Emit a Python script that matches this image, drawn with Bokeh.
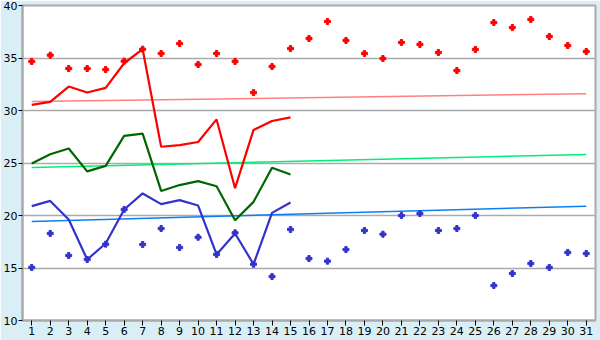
from bokeh.plotting import figure
from bokeh.embed import file_html
from bokeh.resources import INLINE
from bokeh.models import FixedTicker, Range1d

days = list(range(1, 32))
line_days = list(range(1, 16))

max_points = [34.67, 35.27, 34.0, 34.0, 33.9, 34.7, 35.84, 35.43, 36.38, 34.38,
              35.43, 34.67, 31.71, 34.19, 35.9, 36.86, 38.48, 36.67, 35.43, 34.95,
              36.48, 36.29, 35.52, 33.8, 35.81, 38.38, 37.9, 38.67, 37.05, 36.19, 35.62]
min_points = [15.05, 18.29, 16.19, 15.81, 17.27, 20.57, 17.24, 18.76, 16.95, 17.93,
              16.29, 18.35, 15.36, 14.19, 18.67, 15.9, 15.65, 16.76, 18.57, 18.22,
              20.0, 20.19, 18.57, 18.76, 20.0, 13.33, 14.48, 15.43, 15.05, 16.48, 16.38]

max_line = [30.53, 30.82, 32.28, 31.71, 32.15, 34.5, 35.84, 26.55, 26.7, 27.0,
            29.15, 22.6, 28.15, 29.0, 29.35]
mean_line = [24.95, 25.84, 26.38, 24.2, 24.73, 27.58, 27.8, 22.34, 22.9, 23.27,
             22.79, 19.55, 21.3, 24.55, 23.9]
min_line = [20.89, 21.39, 19.62, 15.81, 17.33, 20.57, 22.1, 21.08, 21.46, 20.95,
            16.29, 18.29, 15.36, 20.25, 21.24]

trend_x = [1, 31]
max_trend = [30.85, 31.6]
mean_trend = [24.57, 25.81]
min_trend = [19.43, 20.89]

y_ticks = [10, 15, 20, 25, 30, 35, 40]

p = figure(width=600, height=340, output_backend="svg", toolbar_location=None,
           x_range=Range1d(0.5, 31.5), y_range=Range1d(10, 40),
           min_border_left=20, min_border_right=5, min_border_top=5, min_border_bottom=20)
p.border_fill_color = "#D9EFF5"
p.background_fill_color = "white"
p.outline_line_color = "#AAAAAA"
p.outline_line_width = 2

p.xgrid.grid_line_color = None
p.ygrid.grid_line_color = "#AAAAAA"
p.ygrid.grid_line_width = 1.5
p.ygrid.ticker = FixedTicker(ticks=y_ticks)

p.yaxis.ticker = FixedTicker(ticks=y_ticks)
p.xaxis.ticker = FixedTicker(ticks=days)
for ax in (p.xaxis, p.yaxis):
    ax.axis_line_color = "#AAAAAA"
    ax.axis_line_width = 2
    ax.major_tick_line_color = "black"
    ax.major_tick_in = 0
    ax.minor_tick_line_color = None
    ax.major_label_text_font = "DejaVu Sans"
    ax.major_label_text_font_size = "11px"
    ax.major_label_text_color = "black"
p.yaxis.major_tick_out = 4
p.yaxis.major_label_standoff = 1
p.xaxis.major_tick_out = 5
p.xaxis.major_label_standoff = 1

# trend lines
p.line(trend_x, max_trend, line_color="#FF8080", line_width=1.5)
p.line(trend_x, mean_trend, line_color="#00EE77", line_width=1.5)
p.line(trend_x, min_trend, line_color="#0A80F0", line_width=1.5)

# data lines
p.line(line_days, max_line, line_color="#FF0000", line_width=2.2)
p.line(line_days, mean_line, line_color="#006600", line_width=2.2)
p.line(line_days, min_line, line_color="#3333CC", line_width=2.2)

# points
p.scatter(days, max_points, marker="plus", size=6, color="#FF0000")
p.scatter(days, min_points, marker="plus", size=6, color="#3333CC")

open("out.html", "w").write(file_html(p, INLINE))
